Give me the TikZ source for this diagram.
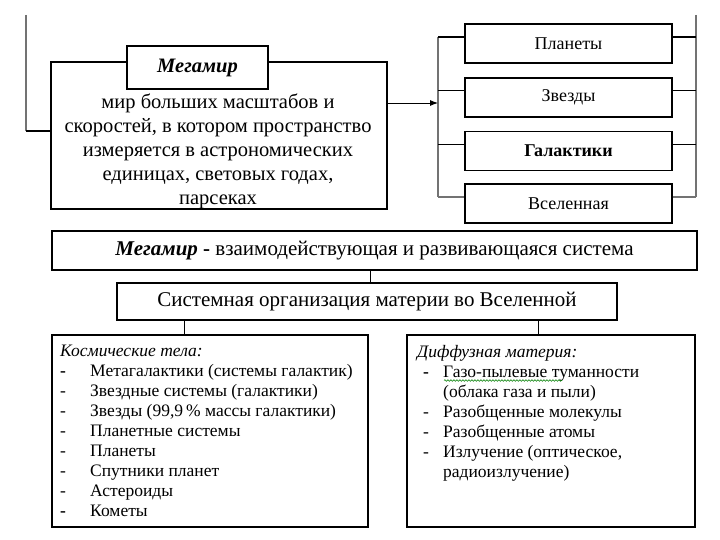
\documentclass[tikz,border=0pt]{standalone}
\usepackage{fontspec}
\setmainfont{Liberation Serif}
\usetikzlibrary{arrows.meta,decorations.pathmorphing}
\begin{document}
\begin{tikzpicture}[x=1pt,y=-1pt,
  box/.style={draw=black,line width=1.6pt,fill=white,inner sep=0pt},
  conn/.style={draw=black,line width=0.9pt},
  grayline/.style={draw=black!55,line width=1.8pt},
  lbl/.style={inner sep=0pt,font=\fontsize{17.5}{20}\selectfont}]
\useasboundingbox (0,0) rectangle (720,540);

% top-left big box
\node[box,minimum width=336pt,minimum height=147pt] (mega) at (219,135.5) {};
\node[inner sep=0pt,align=center,font=\fontsize{20.5}{24}\selectfont] (megatext) at (218,151)
  {мир больших масштабов и\\скоростей, в котором пространство\\измеряется в астрономических\\единицах, световых годах,\\парсеках};
\node[box,minimum width=141pt,minimum height=43pt,font=\fontsize{20.5}{22}\selectfont\bfseries\itshape] (title) at (197.5,67.5) {Мегамир};

% left line
\coordinate (ltop) at (26,15);
\coordinate (lcorner) at (26,131);
\draw[grayline] (ltop) -- (lcorner);
\draw[conn,line width=1.6pt] (lcorner) -- (lcorner -| mega.west);

% right boxes
\foreach \n/\y/\t in {p1/43.5/Планеты, p2/97.5/Звезды, p3/151/\textbf{Галактики}, p4/203.5/Вселенная}{
  \node[box,minimum width=207pt,minimum height=39pt,font=\fontsize{18}{20}\selectfont] (\n) at (568.5,\y) {\t};
}

% left bracket
\coordinate (bt) at (438,37);
\coordinate (bb) at (438,197);
\draw[grayline] (bt) -- (bb);
\coordinate (b1) at (438,37);
\coordinate (b2) at (438,90);
\coordinate (b3) at (438,144);
\coordinate (b4) at (438,197);
\draw[conn,line width=1.5pt] (b1) -- (b1 -| p1.west);
\draw[conn] (b2) -- (b2 -| p2.west);
\draw[conn] (b3) -- (b3 -| p3.west);
\draw[grayline] (b4) -- (b4 -| p4.west);

% right bracket
\coordinate (rt) at (696,15);
\coordinate (r1) at (696,37);
\coordinate (r2) at (696,90);
\coordinate (r3) at (696,144);
\coordinate (r4) at (696,197);
\draw[grayline] (rt) -- (r4);
\draw[conn,line width=1.5pt] (r1 -| p1.east) -- (r1);
\draw[conn] (r2 -| p2.east) -- (r2);
\draw[conn] (r3 -| p3.east) -- (r3);
\draw[grayline] (r4 -| p4.east) -- (r4);

% arrow
\coordinate (arr) at (438,103);
\draw[conn,-{Latex[length=8pt,width=6pt]}] (arr -| mega.east) -- (arr);

% middle boxes
\node[box,minimum width=645pt,minimum height=39pt,font=\fontsize{21}{22}\selectfont] (sys) at (374.5,250.5)
  {\textbf{\textit{Мегамир}} \textbf{-} взаимодействующая и развивающаяся система};
\node[box,minimum width=500pt,minimum height=37pt,font=\fontsize{21}{22}\selectfont] (org) at (367,301.5)
  {Системная организация материи во Вселенной};
\coordinate (c1) at (370,0);
\draw[conn] (c1 |- sys.south) -- (c1 |- org.north);

% bottom boxes
\node[box,minimum width=316pt,minimum height=192pt] (cosm) at (210,431) {};
\node[box,minimum width=288pt,minimum height=192pt] (diff) at (551,431) {};
\coordinate (c2) at (184,0);
\coordinate (c3) at (538,0);
\draw[conn] (c2 |- org.south) -- (c2 |- cosm.north);
\draw[conn] (c3 |- org.south) -- (c3 |- diff.north);

\node[lbl,anchor=north west,align=left] (cosmtext) at (60,345) {%
  \textit{Космические тела:}\\
  \makebox[30pt][l]{\textbf{-}}Метагалактики (системы галактик)\\
  \makebox[30pt][l]{-}Звездные системы (галактики)\\
  \makebox[30pt][l]{-}Звезды (99,9\,\% массы галактики)\\
  \makebox[30pt][l]{-}Планетные системы\\
  \makebox[30pt][l]{-}Планеты\\
  \makebox[30pt][l]{-}Спутники планет\\
  \makebox[30pt][l]{-}Астероиды\\
  \makebox[30pt][l]{\textbf{-}}Кометы};

\node[lbl,anchor=north west,align=left] (difftext) at (417,345) {%
  \textit{Диффузная материя:}\\
  \hspace*{6pt}\makebox[20pt][l]{\textbf{-}}Газо-пылевые туманности\\
  \hspace*{26pt}(облака газа и пыли)\\
  \hspace*{6pt}\makebox[20pt][l]{-}Разобщенные молекулы\\
  \hspace*{6pt}\makebox[20pt][l]{-}Разобщенные атомы\\
  \hspace*{6pt}\makebox[20pt][l]{-}Излучение (оптическое,\\
  \hspace*{26pt}радиоизлучение)};

\draw[green!50!black,line width=0.6pt,decorate,decoration={snake,amplitude=0.8pt,segment length=3pt}] (444,380.5) -- (562,380.5);
\end{tikzpicture}
\end{document}
